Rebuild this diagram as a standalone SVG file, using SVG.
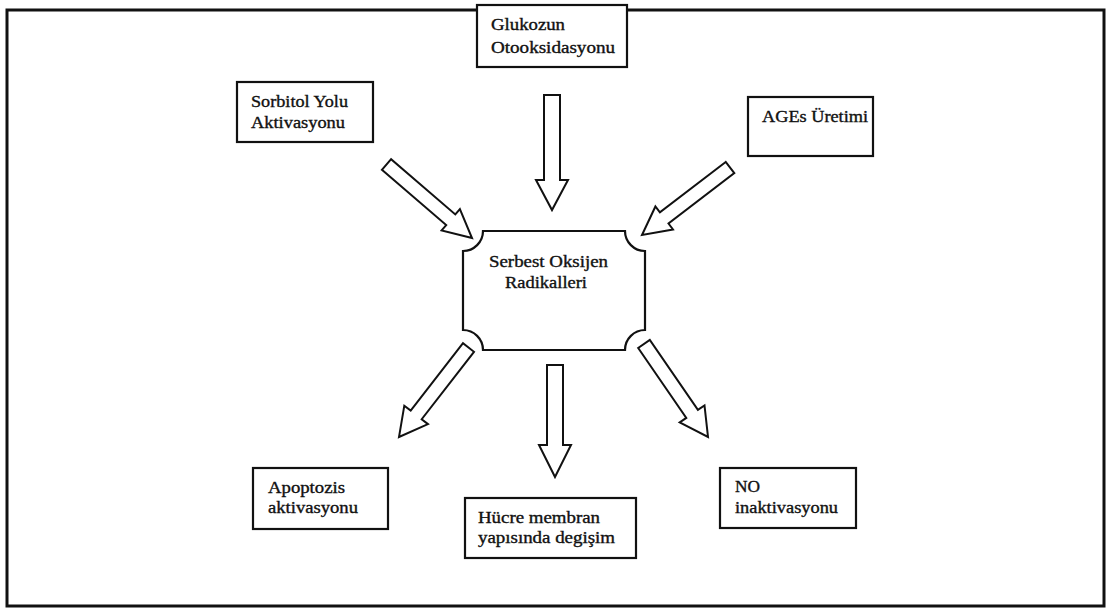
<svg xmlns="http://www.w3.org/2000/svg" width="1108" height="612" viewBox="0 0 1108 612">
<style>
.box{fill:#fff;stroke:#111;stroke-width:2.2}
.arr{fill:#fff;stroke:#111;stroke-width:2;stroke-linejoin:miter}
.t{font-family:"Liberation Serif","Times New Roman",serif;font-size:16px;fill:#111;stroke:#111;stroke-width:0.35}
</style>
<rect x="0" y="0" width="1108" height="612" fill="#fff"/>
<rect id="frame" x="7" y="10" width="1097" height="596" fill="none" stroke="#111" stroke-width="3"/>
<g id="connectors">
<polygon class="arr" points="544,95 544,180 536,180 552,210 568,180 560,180 560,95"/>
<polygon class="arr" points="381.9,169.8 446.2,225.1 441.6,230.4 472,238 459.9,209.1 455.3,214.4 391.1,159.2"/>
<polygon class="arr" points="725.7,162 659.9,212.4 655.4,206.5 642,235 673,229.5 668.5,223.5 734.3,173.1"/>
<polygon class="arr" points="463,343.2 410.7,410.6 404.3,405.7 399,437 428,424.1 421.7,419.2 474,351.8"/>
<polygon class="arr" points="638.2,348 686.3,417.9 679.7,422.4 708,437 704.5,405.4 697.9,409.9 649.8,340"/>
<polygon class="arr" points="547,365 547,445 539,445 555,477 571,445 563,445 563,365"/>
</g>
<g id="glukozun">
<rect class="box" x="477" y="5" width="150" height="62"/>
<text class="t" x="491" y="30" textLength="74" lengthAdjust="spacingAndGlyphs">Glukozun</text>
<text class="t" x="491" y="53" textLength="124" lengthAdjust="spacingAndGlyphs">Otooksidasyonu</text>
</g>
<g id="sorbitol">
<rect class="box" x="237" y="82" width="136" height="60"/>
<text class="t" x="251" y="107" textLength="97" lengthAdjust="spacingAndGlyphs">Sorbitol Yolu</text>
<text class="t" x="251" y="128" textLength="94" lengthAdjust="spacingAndGlyphs">Aktivasyonu</text>
</g>
<g id="ages">
<rect class="box" x="748" y="97" width="125" height="59"/>
<text class="t" x="762" y="122" textLength="106" lengthAdjust="spacingAndGlyphs">AGEs Üretimi</text>
</g>
<g id="serbest">
<path class="box" d="M483,231 H625 A20,20 0 0 0 645,251 V330 A20,20 0 0 0 625,350 H483 A20,20 0 0 0 463,330 V251 A20,20 0 0 0 483,231 Z"/>
<text class="t" x="489" y="267" textLength="119" lengthAdjust="spacingAndGlyphs">Serbest Oksijen</text>
<text class="t" x="505" y="288" textLength="82" lengthAdjust="spacingAndGlyphs">Radikalleri</text>
</g>
<g id="apoptozis">
<rect class="box" x="253" y="468" width="135" height="61"/>
<text class="t" x="268" y="493" textLength="77" lengthAdjust="spacingAndGlyphs">Apoptozis</text>
<text class="t" x="268" y="513" textLength="90" lengthAdjust="spacingAndGlyphs">aktivasyonu</text>
</g>
<g id="hucre">
<rect class="box" x="465" y="498" width="171" height="60"/>
<text class="t" x="478" y="523" textLength="122" lengthAdjust="spacingAndGlyphs">Hücre membran</text>
<text class="t" x="478" y="543" textLength="137" lengthAdjust="spacingAndGlyphs">yapısında degişim</text>
</g>
<g id="no">
<rect class="box" x="720" y="468" width="136" height="60"/>
<text class="t" x="735" y="492" textLength="25" lengthAdjust="spacingAndGlyphs">NO</text>
<text class="t" x="735" y="513" textLength="103" lengthAdjust="spacingAndGlyphs">inaktivasyonu</text>
</g>
</svg>
